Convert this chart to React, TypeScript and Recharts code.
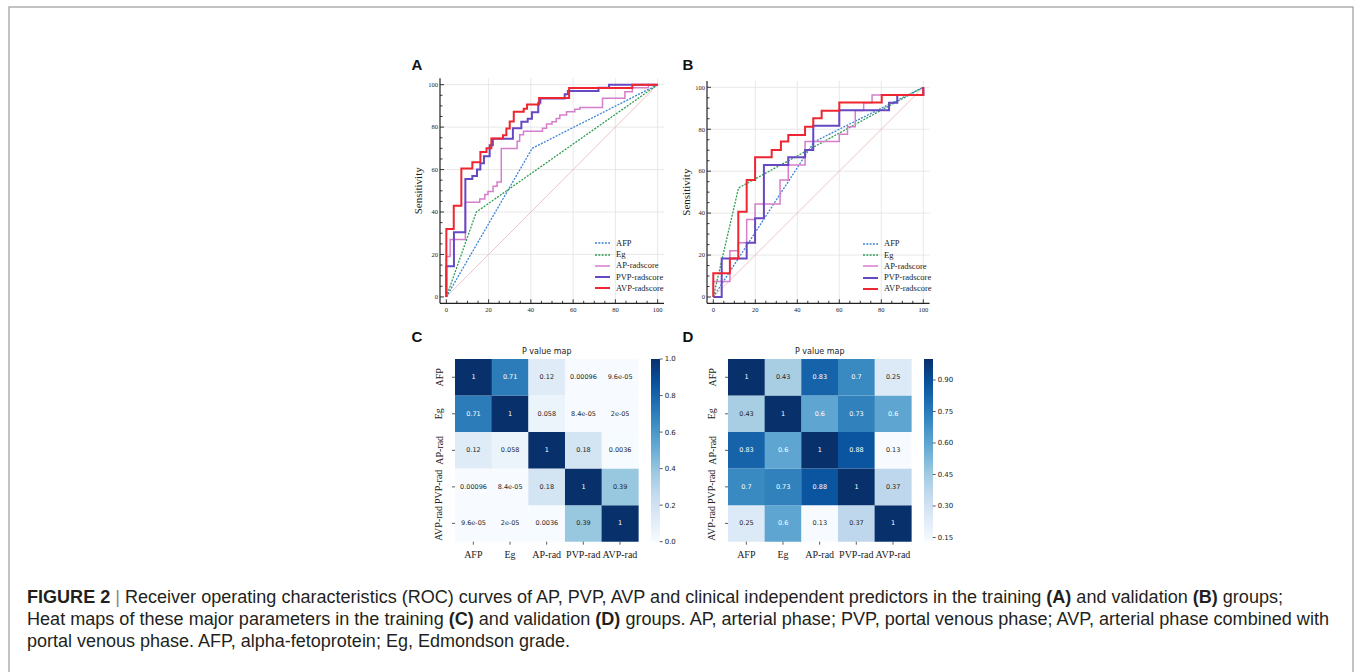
import React from "react";
import { LineChart, Line, XAxis, YAxis, ReferenceLine, BarChart, Bar, Cell, LabelList, Label } from "recharts";

// ROC knots [100-specificity, sensitivity]
const trainAFP = [[0, 0], [40.6, 70], [100, 100]];
const trainEg = [[0, 0], [14.2, 40], [100, 100]];
const trainAP = [[0, 0], [0, 19], [1.8, 27], [9, 44.6], [15.8, 46.1], [18.2, 48.2], [19.7, 49.7], [22.1, 52.1], [24, 54.1], [26, 69.9], [33.5, 73.3], [34.7, 76.4], [36.5, 78], [45.5, 79.5], [47.4, 81.5], [50, 82.5], [52, 84.1], [53.7, 85.7], [56.9, 87.3], [60.8, 88.4], [63.2, 89.3], [73.9, 93.6], [84.5, 96.7], [88, 98.6], [95.6, 100], [100, 100]];
const trainPVP = [[0, 0], [0, 14.5], [3.6, 30.5], [9, 55.6], [12.3, 57], [14.5, 60], [16.1, 63], [17.8, 66.3], [20.5, 71.5], [22, 74.5], [31.5, 79.5], [35.5, 82.5], [38.5, 84], [40.5, 87], [43.5, 91.5], [44.5, 93.5], [56, 95.5], [57.5, 97], [72, 98.5], [77, 100], [100, 100]];
const trainAVP = [[0, 0], [0, 32], [3.5, 43], [7.1, 60.5], [12.3, 63.4], [16.1, 68.3], [19, 70], [21.3, 74.6], [26.8, 76.2], [28.4, 79.4], [30, 82.7], [31.9, 87.3], [36.6, 88.6], [38.2, 90.6], [43.9, 93.7], [58.1, 98.4], [88, 100], [100, 100]];

const validAFP = [[0, 0], [48, 74], [100, 100]];
const validEg = [[0, 0], [12, 52], [100, 100]];
const validAP = [[0, 0], [0, 7.4], [7.9, 22], [11.9, 25.9], [15.9, 37], [19.9, 44.4], [31.8, 55.8], [35.7, 62.9], [43.7, 74.1], [60, 77.6], [63.9, 81.2], [67.6, 88.9], [71.6, 92.6], [75.6, 96.3], [100, 100]];
const validPVP = [[0, 0], [4, 18.4], [15.9, 25.9], [19.9, 37.5], [24.1, 62.9], [35.7, 66.6], [43.7, 70.1], [47.6, 81.7], [60, 89], [83.7, 92.6], [87.6, 96.3], [100, 100]];
const validAVP = [[0, 0], [0, 11.3], [7.9, 18.4], [11.9, 40.7], [15.9, 55.8], [19.9, 66.6], [27.8, 70.1], [32.2, 74.1], [35.7, 77.3], [43.7, 81.2], [47.6, 85.2], [51.6, 88.8], [60, 92.7], [80.2, 96.3], [100, 100]];

const diagonal = [[0, 0], [100, 100]];

const seriesNames = ["AFP", "Eg", "AP-radscore", "PVP-radscore", "AVP-radscore"];
const seriesColors = ["#3b84d6", "#2e9d52", "#d67dcc", "#6548c2", "#ef2630"];
const seriesWidths = [1.3, 1.3, 1.5, 2, 2];
const seriesDash = ["2 1.3", "2 1.3", "", "", ""];

const axisTicks = [0, 5, 10, 15, 20, 25, 30, 35, 40, 45, 50, 55, 60, 65, 70, 75, 80, 85, 90, 95, 100];
const gridValues = [20, 40, 60, 80, 100];

// P value matrices (rows/cols in heatLabels order)
const heatLabels = ["AFP", "Eg", "AP-rad", "PVP-rad", "AVP-rad"];
const trainP = [
  [1, 0.71, 0.12, 0.00096, 9.6e-05],
  [0.71, 1, 0.058, 8.4e-05, 2e-05],
  [0.12, 0.058, 1, 0.18, 0.0036],
  [0.00096, 8.4e-05, 0.18, 1, 0.39],
  [9.6e-05, 2e-05, 0.0036, 0.39, 1],
];
const validP = [
  [1, 0.43, 0.83, 0.7, 0.25],
  [0.43, 1, 0.6, 0.73, 0.6],
  [0.83, 0.6, 1, 0.88, 0.13],
  [0.7, 0.73, 0.88, 1, 0.37],
  [0.25, 0.6, 0.13, 0.37, 1],
];
const trainBarTicks = [0, 0.2, 0.4, 0.6, 0.8, 1.0];
const validBarTicks = [0.15, 0.3, 0.45, 0.6, 0.75, 0.9];

const BLUES = ["#f7fbff", "#deebf7", "#c6dbef", "#9ecae1", "#6baed6", "#4292c6", "#2171b5", "#08519c", "#08306b"];

const hexRgb = (h: string) => [1, 3, 5].map((i) => parseInt(h.slice(i, i + 2), 16));
function blues(t: number) {
  const tt = Math.max(0, Math.min(1, t)) * 8;
  const i = Math.min(7, Math.floor(tt));
  const f = tt - i;
  const a = hexRgb(BLUES[i]);
  const b = hexRgb(BLUES[i + 1]);
  return a.map((c, k) => Math.round(c + (b[k] - c) * f));
}
const rgbStr = (c: number[]) => `rgb(${c[0]},${c[1]},${c[2]})`;
function lum(c: number[]) {
  const l = c.map((v) => {
    const s = v / 255;
    return s <= 0.03928 ? s / 12.92 : Math.pow((s + 0.055) / 1.055, 2.4);
  });
  return 0.2126 * l[0] + 0.7152 * l[1] + 0.0722 * l[2];
}
// python "%.2g"
function fmtG(v: number) {
  const e = Math.floor(Math.log10(Math.abs(v)));
  if (e < -4) {
    const m = parseFloat((v / Math.pow(10, e)).toPrecision(2));
    return `${m}e-${String(-e).padStart(2, "0")}`;
  }
  return String(parseFloat(v.toPrecision(2)));
}

const toXY = (arr: number[][]) => arr.map(([x, y]) => ({ x, y }));
const SERIF = "Liberation Serif";
const SANS = "Liberation Sans";

const XTick = (p: any) => {
  const v = p.payload.value;
  const major = v % 20 === 0;
  return (
    <g>
      <line x1={p.x} y1={p.y} x2={p.x} y2={p.y - (major ? 4 : 2.5)} stroke="#222" strokeWidth={0.9} />
      {major && (
        <text x={p.x} y={p.y + 4.5} dy="0.71em" textAnchor="middle" fontSize={6.5} fontFamily={SERIF} fill="#222">
          {v}
        </text>
      )}
    </g>
  );
};
const YTick = (p: any) => {
  const v = p.payload.value;
  const major = v % 20 === 0;
  return (
    <g>
      <line x1={p.x} y1={p.y} x2={p.x + (major ? 4 : 2.5)} y2={p.y} stroke="#222" strokeWidth={0.9} />
      {major && (
        <text x={p.x - 2} y={p.y} dy="0.35em" textAnchor="end" fontSize={6.5} fontFamily={SERIF} fill="#222">
          {v}
        </text>
      )}
    </g>
  );
};

function RocLegend({ left, top }: { left: number; top: number }) {
  return (
    <div style={{ position: "absolute", left, top, fontFamily: SERIF, fontSize: 8.5, color: "#222" }}>
      {seriesNames.map((n, i) => (
        <div key={n} style={{ display: "flex", alignItems: "center", height: 11.25 }}>
          <svg width={15} height={4} style={{ marginRight: 6 }}>
            <line x1={0} y1={2} x2={15} y2={2} stroke={seriesColors[i]} strokeWidth={seriesWidths[i]} strokeDasharray={seriesDash[i] || undefined} />
          </svg>
          <span style={{ lineHeight: "11px" }}>{n}</span>
        </div>
      ))}
    </div>
  );
}

function RocPanel(props: any) {
  const { left, top, margin, yWidth, xHeight, curves, labelX } = props;
  return (
    <div style={{ position: "absolute", left, top }}>
      <LineChart width={280} height={280} margin={margin}>
        <XAxis dataKey="x" type="number" domain={[-3, 103]} ticks={axisTicks} allowDataOverflow height={xHeight}
          tickSize={0} tickMargin={0} tickLine={false} axisLine={{ stroke: "#222", strokeWidth: 1.2 }} tick={(p: any) => <XTick {...p} />} interval={0} />
        <YAxis dataKey="y" type="number" domain={[-3, 103]} ticks={axisTicks} allowDataOverflow width={yWidth}
          tickSize={0} tickMargin={0} tickLine={false} axisLine={{ stroke: "#222", strokeWidth: 1.2 }} tick={(p: any) => <YTick {...p} />} interval={0}>
          <Label content={(lp: any) => {
            const vb = lp.viewBox;
            const cy = vb.y + vb.height / 2;
            return (
              <text x={labelX} y={cy} transform={`rotate(-90, ${labelX}, ${cy})`} textAnchor="middle" dominantBaseline="central" fontSize={11} fontFamily={SERIF} fill="#222">
                Sensitivity
              </text>
            );
          }} />
        </YAxis>
        {gridValues.map((g) => <ReferenceLine key={"gx" + g} x={g} stroke="#e2e2e2" strokeWidth={0.8} />)}
        {gridValues.map((g) => <ReferenceLine key={"gy" + g} y={g} stroke="#e2e2e2" strokeWidth={0.8} />)}
        <Line data={toXY(diagonal)} dataKey="y" type="linear" stroke="#e8b4b4" strokeWidth={0.8} dot={false} activeDot={false} isAnimationActive={false} />
        {curves.map((c: number[][], i: number) => (
          <Line key={seriesNames[i]} data={toXY(c)} dataKey="y" type={i < 2 ? "linear" : "stepAfter"} stroke={seriesColors[i]}
            strokeWidth={seriesWidths[i]} strokeDasharray={seriesDash[i] || undefined} dot={false} activeDot={false} isAnimationActive={false} />
        ))}
      </LineChart>
    </div>
  );
}

const RowTick = (p: any) => {
  const idx = heatLabels.length - 1 - Math.floor(p.payload.value);
  return (
    <text x={p.x} y={p.y} transform={`rotate(-90, ${p.x}, ${p.y})`} textAnchor="middle" dominantBaseline="central" fontSize={10} fontFamily={SERIF} fill="#222">
      {heatLabels[idx]}
    </text>
  );
};

function Heatmap({ left, top, matrix, barTicks, digits, gid }: any) {
  const flat = matrix.flat();
  const lo = Math.min(...flat);
  const hi = Math.max(...flat);
  const table = heatLabels.map((c, ci) => {
    const o: any = { name: c };
    heatLabels.forEach((r, ri) => {
      o[r] = 1;
      o["p_" + r] = matrix[ri][ci];
    });
    return o;
  });
  const rowsBottomUp = [...heatLabels].reverse();
  const norm = (v: number) => (v - lo) / (hi - lo);
  const stops = [0, 0.125, 0.25, 0.375, 0.5, 0.625, 0.75, 0.875, 1];
  return (
    <>
      <div style={{ position: "absolute", left, top }}>
        <BarChart width={250} height={236.7} data={table} margin={{ top: 24, right: 11.7, left: 0, bottom: 0 }} barCategoryGap={0} barGap={0}>
          <XAxis dataKey="name" type="category" axisLine={false} tickSize={3} tickMargin={6} height={30} interval={0}
            tickLine={{ stroke: "#333", strokeWidth: 0.8 }}
            tick={{ fontSize: 10, fontFamily: SERIF, fill: "#222" }} />
          <YAxis type="number" domain={[0, 5]} ticks={[0.5, 1.5, 2.5, 3.5, 4.5]} width={55} axisLine={false} tickSize={3} tickMargin={13}
            tickLine={{ stroke: "#333", strokeWidth: 0.8 }} tick={(p: any) => <RowTick {...p} />} interval={0} />
          {rowsBottomUp.map((r) => {
            const ri = heatLabels.indexOf(r);
            return (
              <Bar key={r} dataKey={r} stackId="s" isAnimationActive={false}>
                {table.map((d, ci) => <Cell key={ci} fill={rgbStr(blues(norm(matrix[ri][ci])))} />)}
                <LabelList dataKey={"p_" + r} content={(lp: any) => {
                  const v = Number(lp.value);
                  const col = blues(norm(v));
                  return (
                    <text x={lp.x + lp.width / 2} y={lp.y + lp.height / 2} textAnchor="middle" dominantBaseline="central"
                      fontSize={6.5} fontFamily="DejaVu Sans" fill={lum(col) > 0.408 ? "#262626" : "#ffffff"}>
                      {fmtG(v)}
                    </text>
                  );
                }} />
              </Bar>
            );
          })}
        </BarChart>
      </div>
      <div style={{ position: "absolute", left: left + 250.7, top }}>
        <BarChart width={38.7} height={218.7} data={[{ name: "scale", span: [lo, hi] }]} margin={{ top: 24, right: 0, left: 0, bottom: 12 }} barCategoryGap={0}>
          <defs>
            <linearGradient id={gid} x1="0" y1="1" x2="0" y2="0">
              {stops.map((s) => <stop key={s} offset={s} stopColor={rgbStr(blues(s))} />)}
            </linearGradient>
          </defs>
          <XAxis dataKey="name" hide />
          <YAxis orientation="right" type="number" domain={[lo, hi]} ticks={barTicks} width={30} axisLine={false} allowDataOverflow
            tickSize={3} tickMargin={2} tickLine={{ stroke: "#333", strokeWidth: 0.8 }} interval={0}
            tickFormatter={(v: number) => v.toFixed(digits)}
            tick={{ fontSize: 7, fontFamily: "DejaVu Sans", fill: "#222", textAnchor: "start" }} />
          <Bar dataKey="span" fill={`url(#${gid})`} isAnimationActive={false} />
        </BarChart>
      </div>
    </>
  );
}

export default function App() {
  return (
    <div style={{ position: "fixed", left: 0, top: 0, width: 1357, height: 672, background: "#fff", overflow: "hidden" }}>
      <svg width={1357} height={672} style={{ position: "absolute", left: 0, top: 0 }}>
        <rect x={9} y={7} width={1344} height={700} fill="none" stroke="#a3a3a3" strokeWidth={1.3} />
        <g fontFamily={SANS} fontWeight="bold" fontSize={15} fill="#111">
          <text x={411.5} y={70}>A</text>
          <text x={682.5} y={70}>B</text>
          <text x={411.5} y={342}>C</text>
          <text x={682.5} y={342}>D</text>
        </g>
        <g fontFamily="DejaVu Sans" fontSize={8} fill="#222" textAnchor="middle">
          <text x={546.7} y={354}>P value map</text>
          <text x={819.7} y={354}>P value map</text>
        </g>
        <g fontFamily={SANS} fontSize={17.5} fill="#231f20">
          <text x={27} y={603} textLength={1256} lengthAdjust="spacingAndGlyphs">
            <tspan fontWeight="bold">FIGURE 2</tspan>
            <tspan fill="#888"> | </tspan>
            <tspan>Receiver operating characteristics (ROC) curves of AP, PVP, AVP and clinical independent predictors in the training </tspan>
            <tspan fontWeight="bold">(A)</tspan>
            <tspan> and validation </tspan>
            <tspan fontWeight="bold">(B)</tspan>
            <tspan> groups;</tspan>
          </text>
          <text x={27} y={625} textLength={1302} lengthAdjust="spacingAndGlyphs">
            <tspan>Heat maps of these major parameters in the training </tspan>
            <tspan fontWeight="bold">(C)</tspan>
            <tspan> and validation </tspan>
            <tspan fontWeight="bold">(D)</tspan>
            <tspan> groups. AP, arterial phase; PVP, portal venous phase; AVP, arterial phase combined with</tspan>
          </text>
          <text x={27} y={647} textLength={543} lengthAdjust="spacingAndGlyphs">portal venous phase. AFP, alpha-fetoprotein; Eg, Edmondson grade.</text>
        </g>
      </svg>

      <RocPanel left={400} top={50} margin={{ top: 28.3, right: 16, left: 0, bottom: 0 }} yWidth={40} xHeight={26.7} labelX={18}
        curves={[trainAFP, trainEg, trainAP, trainPVP, trainAVP]} />
      <RocLegend left={595} top={237.7} />

      <RocPanel left={670} top={50} margin={{ top: 31, right: 20.4, left: 0, bottom: 0 }} yWidth={37} xHeight={26.7} labelX={16}
        curves={[validAFP, validEg, validAP, validPVP, validAVP]} />
      <RocLegend left={863} top={238.3} />

      <Heatmap left={400} top={335} matrix={trainP} barTicks={trainBarTicks} digits={1} gid="cbTrain" />
      <Heatmap left={673.3} top={335} matrix={validP} barTicks={validBarTicks} digits={2} gid="cbValid" />
    </div>
  );
}
